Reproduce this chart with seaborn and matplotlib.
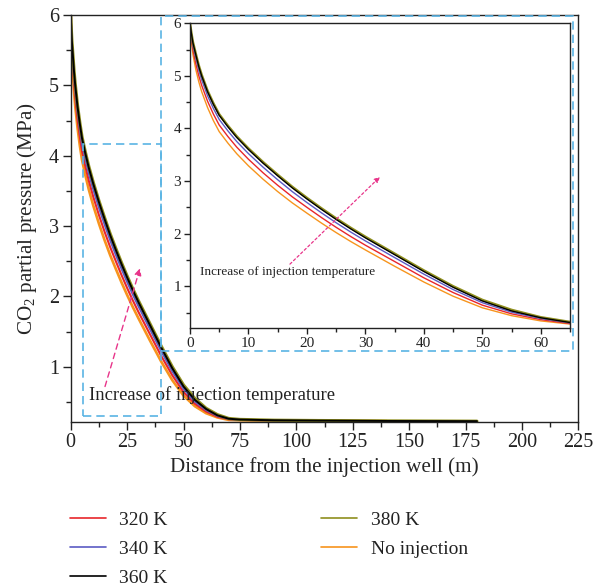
import numpy as np
import pandas as pd
import matplotlib
matplotlib.use("Agg")
import matplotlib.pyplot as plt
from matplotlib.patches import Rectangle
from matplotlib.ticker import MultipleLocator
import seaborn as sns

# ---------------- data ----------------
distance = [0, 0.25, 0.5, 1, 1.5, 2, 3, 4, 5, 6.5, 8, 10, 12.5, 15, 17.5, 20, 22.5, 25, 27.5, 30,
            35, 40, 45, 50, 55, 60, 65, 70, 75, 90, 110, 140, 180]
p_320 = [6.00, 5.71, 5.50, 5.23, 5.005, 4.82, 4.52, 4.275, 4.065, 3.845, 3.645, 3.415, 3.157, 2.92, 2.70, 2.50,
         2.305, 2.12, 1.945, 1.78, 1.47, 1.16, 0.88, 0.64, 0.475, 0.365, 0.29, 0.255, 0.245, 0.238, 0.233, 0.229, 0.226]
p_340 = [6.00, 5.76, 5.575, 5.33, 5.108, 4.925, 4.625, 4.382, 4.172, 3.952, 3.752, 3.522, 3.264, 3.025, 2.799, 2.592,
         2.395, 2.207, 2.03, 1.862, 1.545, 1.23, 0.937, 0.687, 0.507, 0.385, 0.302, 0.258, 0.247, 0.239, 0.234, 0.229, 0.226]
p_360 = [6.00, 5.80, 5.63, 5.40, 5.18, 5.00, 4.70, 4.46, 4.25, 4.03, 3.83, 3.60, 3.34, 3.10, 2.87, 2.66,
         2.46, 2.27, 2.09, 1.92, 1.60, 1.28, 0.98, 0.72, 0.53, 0.40, 0.31, 0.262, 0.25, 0.24, 0.235, 0.23, 0.227]
p_380 = [6.00, 5.81, 5.645, 5.42, 5.20, 5.02, 4.72, 4.48, 4.27, 4.05, 3.85, 3.62, 3.36, 3.12, 2.89, 2.68,
         2.48, 2.29, 2.11, 1.94, 1.62, 1.30, 1.00, 0.74, 0.55, 0.41, 0.32, 0.266, 0.252, 0.241, 0.236, 0.231, 0.227]
p_none = [6.00, 5.65, 5.41, 5.12, 4.89, 4.70, 4.40, 4.15, 3.94, 3.72, 3.52, 3.29, 3.035, 2.80, 2.585, 2.39,
          2.20, 2.02, 1.85, 1.69, 1.38, 1.08, 0.81, 0.59, 0.44, 0.34, 0.28, 0.245, 0.24, 0.235, 0.231, 0.228, np.nan]
labels = ["320 K", "340 K", "360 K", "380 K", "No injection"]
series = [p_320, p_340, p_360, p_380, p_none]
colors = ["#e8262b", "#5b5bc4", "#000000", "#8f8f1e", "#f7941d"]

main_xticks = [0, 25, 50, 75, 100, 125, 150, 175, 200, 225]
main_yticks = [1, 2, 3, 4, 5, 6]
inset_xticks = [0, 10, 20, 30, 40, 50, 60]
inset_yticks = [1, 2, 3, 4, 5, 6]
annot_text = "Increase of injection temperature"

# ---------------- style ----------------
sns.set_style("ticks")
plt.rcParams["font.family"] = ["Liberation Serif", "DejaVu Serif"]
plt.rcParams["mathtext.fontset"] = "custom"
plt.rcParams["mathtext.rm"] = "Liberation Serif"
plt.rcParams["axes.edgecolor"] = "#222222"
plt.rcParams["text.color"] = "#222222"
plt.rcParams["xtick.color"] = "#222222"
plt.rcParams["ytick.color"] = "#222222"

df = pd.DataFrame({"distance": distance})
for lab, s in zip(labels, series):
    df[lab] = s

fig = plt.figure(figsize=(6.06, 5.86), dpi=100)
ax = fig.add_axes([0.1167, 0.2804, 0.8379, 0.6940])
axin = fig.add_axes([0.3135, 0.4398, 0.6271, 0.5204])

draw_order = [4, 0, 1, 3, 2]
main_lw = {0: 1.5, 1: 1.5, 2: 1.4, 3: 2.3, 4: 1.9}
inset_lw = {0: 1.0, 1: 1.0, 2: 1.0, 3: 1.8, 4: 1.0}
for i in draw_order:
    sns.lineplot(data=df, x="distance", y=labels[i], ax=ax, color=colors[i],
                 lw=main_lw[i], label=labels[i], legend=False)
    sns.lineplot(data=df, x="distance", y=labels[i], ax=axin, color=colors[i],
                 lw=inset_lw[i], legend=False)

# main axes
ax.set_xlim(0, 225)
ax.set_ylim(0.22, 6)
ax.set_xticks(main_xticks)
ax.set_yticks(main_yticks)
ax.xaxis.set_minor_locator(MultipleLocator(12.5))
ax.yaxis.set_minor_locator(MultipleLocator(0.5))
ax.tick_params(which="major", direction="out", length=6, width=1, labelsize=14.5, pad=2.5)
ax.tick_params(which="minor", direction="out", length=3.5, width=1)
ax.set_xlabel("Distance from the injection well (m)", fontsize=15.2, labelpad=3)
ax.set_ylabel(r"CO$_\mathregular{2}$ partial pressure (MPa)", fontsize=15.2, labelpad=7)
for sp in ax.spines.values():
    sp.set_linewidth(1.0)

# inset axes
axin.set_xlim(0, 65)
axin.set_ylim(0.2, 6)
axin.set_xticks(inset_xticks)
axin.set_yticks(inset_yticks)
axin.xaxis.set_minor_locator(MultipleLocator(5))
axin.yaxis.set_minor_locator(MultipleLocator(0.5))
axin.tick_params(which="major", direction="out", length=4.5, width=1, labelsize=11, pad=2)
axin.tick_params(which="minor", direction="out", length=3, width=1)
axin.set_xlabel("")
axin.set_ylabel("")
for sp in axin.spines.values():
    sp.set_linewidth(1.0)

# dashed zoom rectangles
dash_col = "#5ab4e4"
ax.add_patch(Rectangle((5.3, 0.30), 40 - 5.3, 4.16 - 0.30, fill=False,
                       ec=dash_col, lw=1.2, ls=(0, (5, 3)), zorder=5))
ax.add_patch(Rectangle((40, 1.23), 222.4 - 40, 5.99 - 1.23, fill=False,
                       ec=dash_col, lw=1.2, ls=(0, (5, 3)), zorder=5, clip_on=False))

# arrows and annotation
ax.annotate("", xy=(30.7, 2.40), xytext=(15.2, 0.72),
            arrowprops=dict(arrowstyle="-|>", color="#e8358a", lw=1.0, ls=(0, (4, 3)),
                            mutation_scale=10, shrinkA=0, shrinkB=0))
ax.text(8.2, 0.60, annot_text, fontsize=13.4, va="center", ha="left", color="#222222")

axin.annotate("", xy=(32.5, 3.08), xytext=(17.1, 1.42),
              arrowprops=dict(arrowstyle="-|>", color="#e8358a", lw=0.9, ls=(0, (2, 2)),
                              mutation_scale=8, shrinkA=0, shrinkB=0))
axin.text(1.7, 1.27, annot_text, fontsize=9.5, va="center", ha="left", color="#222222")

# legend
handles, labs = ax.get_legend_handles_labels()
order = [labs.index(l) for l in labels]
leg = fig.legend([handles[i] for i in order], [labs[i] for i in order],
                 loc="upper left", bbox_to_anchor=(0.1155, 0.128), ncol=2,
                 frameon=False, fontsize=14, handlelength=1.85, handletextpad=0.69,
                 columnspacing=7.9, labelspacing=0.59, borderpad=0, borderaxespad=0)
for h in leg.legend_handles:
    h.set_linewidth(1.2)

fig.savefig("out.png", dpi=100)
